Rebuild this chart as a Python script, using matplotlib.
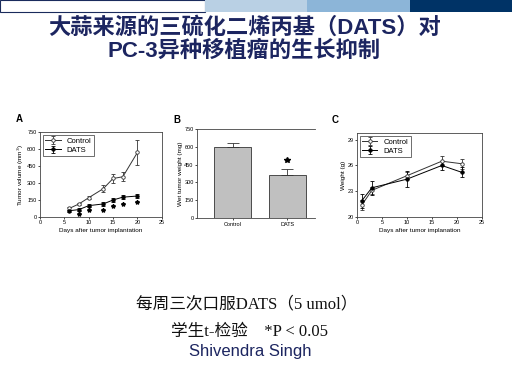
import matplotlib
matplotlib.use("Agg")
import matplotlib.pyplot as plt
from matplotlib.patches import Rectangle

plt.rcParams['font.family'] = ['Liberation Sans', 'Noto Sans CJK SC', 'DejaVu Sans']

# --- data ---
# A: tumor volume
days_a = [6, 8, 10, 13, 15, 17, 20]
ctrl_vol = [75, 115, 170, 250, 340, 355, 570]
ctrl_vol_err = [10, 12, 15, 30, 40, 40, 110]
dats_vol = [55, 65, 100, 115, 150, 175, 185]
dats_vol_err = [10, 12, 15, 15, 20, 20, 20]
star_days = [8, 10, 13, 15, 17, 20]
star_vals = [25, 60, 65, 95, 115, 135]

# B: wet tumor weight
groups = ['Control', 'DATS']
weight = [600, 360]
weight_err = [30, 50]

# C: body weight
days_c = [1, 3, 10, 17, 21]
ctrl_bw = [21.4, 23.1, 24.8, 26.5, 26.2]
ctrl_bw_err = [0.6, 0.4, 0.4, 0.6, 0.6]
dats_bw = [21.9, 23.4, 24.4, 26.0, 25.2]
dats_bw_err = [0.8, 0.8, 0.9, 0.5, 0.6]

fig = plt.figure(figsize=(5.12, 3.84), dpi=100)

# top banner
bg = fig.add_axes([0, 0, 1, 1], zorder=-1)
bg.set_xlim(0, 512)
bg.set_ylim(384, 0)
bg.axis('off')
bg.add_patch(Rectangle((0, 0), 205, 12, facecolor='white', edgecolor='#1a2b5c', lw=0.8))
bg.add_patch(Rectangle((205, 0), 102, 12, facecolor='#b9d0e4', edgecolor='none'))
bg.add_patch(Rectangle((307, 0), 103, 12, facecolor='#8cb5d8', edgecolor='none'))
bg.add_patch(Rectangle((410, 0), 102, 12, facecolor='#003366', edgecolor='none'))

navy = '#1c2560'
fig.text(0.477, 0.928, '大蒜来源的三硫化二烯丙基（DATS）对', ha='center', va='center',
         fontsize=16, fontweight='bold', color=navy)
fig.text(0.477, 0.866, 'PC-3异种移植瘤的生长抑制', ha='center', va='center',
         fontsize=16, fontweight='bold', color=navy)

tick_fs = 4.0
lab_fs = 4.6
lw = 0.7
leg_kw = dict(loc='upper left', fontsize=5.5, frameon=True, fancybox=False, edgecolor='black',
              handlelength=2, borderpad=0.3, labelspacing=0.25, borderaxespad=0.4)

# --- A ---
axA = fig.add_axes([0.078, 0.435, 0.238, 0.221])
axA.errorbar(days_a, ctrl_vol, yerr=ctrl_vol_err, color='#333333', marker='o', mfc='white',
             ms=2.5, lw=lw, elinewidth=0.6, capsize=1.5, mew=0.6, label='Control')
axA.errorbar(days_a, dats_vol, yerr=dats_vol_err, color='black', marker='o', mfc='black',
             ms=2.5, lw=lw, elinewidth=0.6, capsize=1.5, mew=0.6, label='DATS')
axA.plot(star_days, star_vals, ls='none', marker='*', ms=3, color='black')
axA.set_xlim(0, 25)
axA.set_ylim(0, 750)
axA.set_xticks([0, 5, 10, 15, 20, 25])
axA.set_yticks([0, 150, 300, 450, 600, 750])
axA.set_xlabel('Days after tumor implantation', fontsize=lab_fs, labelpad=2)
axA.set_ylabel('Tumor volume (mm$^3$)', fontsize=lab_fs, labelpad=1)
axA.legend(**leg_kw).get_frame().set_linewidth(0.5)
axA.text(-0.2, 1.12, 'A', transform=axA.transAxes, fontsize=7, fontweight='bold')

# --- B ---
axB = fig.add_axes([0.385, 0.432, 0.230, 0.232])
axB.bar([0, 1], weight, width=0.67, color='#c0c0c0', edgecolor='#333333', lw=0.6)
axB.errorbar([0, 1], weight, yerr=[[0, 0], weight_err], ls='none', color='#333333',
             elinewidth=0.6, capsize=4, capthick=0.6)
axB.plot([1], [490], ls='none', marker='*', ms=4, color='black')
axB.set_xlim(-0.65, 1.5)
axB.set_ylim(0, 750)
axB.set_xticks([0, 1])
axB.set_xticklabels(groups)
axB.set_yticks([0, 150, 300, 450, 600, 750])
axB.set_ylabel('Wet tumor weight (mg)', fontsize=lab_fs, labelpad=1)
axB.spines['right'].set_visible(False)
axB.tick_params(axis='x', length=0)
axB.text(-0.2, 1.07, 'B', transform=axB.transAxes, fontsize=7, fontweight='bold')

# --- C ---
axC = fig.add_axes([0.697, 0.435, 0.244, 0.219])
axC.errorbar(days_c, ctrl_bw, yerr=ctrl_bw_err, color='#333333', marker='o', mfc='white',
             ms=2.5, lw=lw, elinewidth=0.6, capsize=1.5, mew=0.6, label='Control')
axC.errorbar(days_c, dats_bw, yerr=dats_bw_err, color='black', marker='o', mfc='black',
             ms=2.5, lw=lw, elinewidth=0.6, capsize=1.5, mew=0.6, label='DATS')
axC.set_xlim(0, 25)
axC.set_ylim(20, 29.8)
axC.set_xticks([0, 5, 10, 15, 20, 25])
axC.set_yticks([20, 23, 26, 29])
axC.set_xlabel('Days after tumor implanation', fontsize=lab_fs, labelpad=2)
axC.set_ylabel('Weight (g)', fontsize=lab_fs, labelpad=1)
axC.legend(**leg_kw).get_frame().set_linewidth(0.5)
axC.text(-0.2, 1.12, 'C', transform=axC.transAxes, fontsize=7, fontweight='bold')

for ax in (axA, axB, axC):
    ax.tick_params(labelsize=tick_fs, length=1.5, width=0.5, pad=1)
    for s in ax.spines.values():
        s.set_linewidth(0.6)
        s.set_color('#444444')

serif = ['Liberation Serif', 'Noto Sans CJK SC']
fig.text(0.482, 0.206, '每周三次口服DATS（5 umol）', ha='center', va='center',
         fontsize=12, family=serif, color='#111111')
fig.text(0.488, 0.136, '学生t-检验    *P < 0.05', ha='center', va='center',
         fontsize=12, family=serif, color='#111111')
fig.text(0.488, 0.085, 'Shivendra Singh', ha='center', va='center',
         fontsize=12, color=navy)

fig.savefig('out.png', dpi=100)
